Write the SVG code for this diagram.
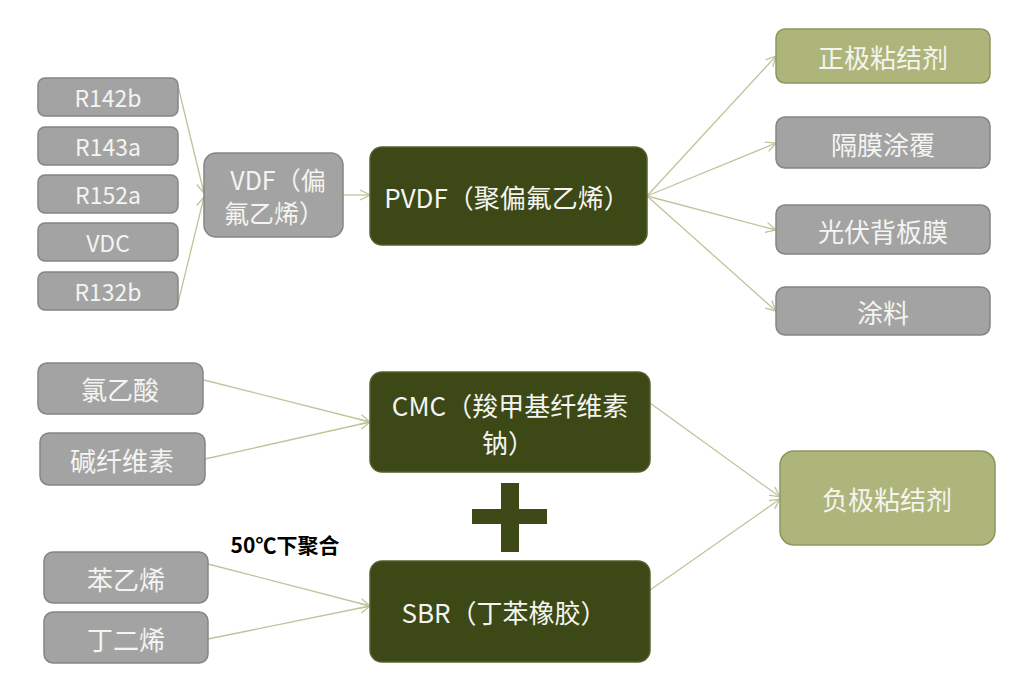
<svg xmlns="http://www.w3.org/2000/svg" width="1024" height="694" viewBox="0 0 1024 694">
<defs>
<marker id="arr" markerUnits="userSpaceOnUse" markerWidth="14" markerHeight="14" viewBox="0 0 14 14" refX="12" refY="7" orient="auto">
<path d="M2,2 L12,7 L2,12" fill="none" stroke="#bfc49a" stroke-width="1.3"/>
</marker>
</defs>
<style>
.g rect{fill:#a3a3a3;stroke:#858585;stroke-width:1.5}
.d rect{fill:#3c4816;stroke:#55602c;stroke-width:1.5}
.l rect{fill:#adb57b;stroke:#8e9660;stroke-width:1.5}
text{font-family:"Noto Sans CJK SC","Noto Sans",sans-serif;fill:#f4f4f0;text-anchor:middle;dominant-baseline:central}
.s{font-size:23px}
.m{font-size:26px}
.v{font-size:25px}
.c line{stroke:#bfc49a;stroke-width:1.3;marker-end:url(#arr)}
</style>
<rect width="1024" height="694" fill="#ffffff"/>
<g class="c" id="connectors">
<line x1="178" y1="86" x2="204" y2="193"/>
<line x1="178" y1="303" x2="204" y2="197"/>
<line x1="343" y1="195" x2="370" y2="195"/>
<line x1="647" y1="196" x2="776" y2="56"/>
<line x1="647" y1="196" x2="776" y2="143"/>
<line x1="647" y1="196" x2="776" y2="230"/>
<line x1="647" y1="196" x2="776" y2="311"/>
<line x1="204" y1="380" x2="370" y2="422"/>
<line x1="205" y1="459" x2="370" y2="422"/>
<line x1="208" y1="564" x2="370" y2="606"/>
<line x1="208" y1="639" x2="370" y2="606"/>
<line x1="650" y1="403" x2="780" y2="497"/>
<line x1="650" y1="590" x2="780" y2="499"/>
</g>
<g id="r142b" class="g"><rect x="38" y="78" width="140" height="38" rx="7"/><text class="s" x="108" y="97">R142b</text></g>
<g id="r143a" class="g"><rect x="38" y="127" width="140" height="38" rx="7"/><text class="s" x="108" y="146">R143a</text></g>
<g id="r152a" class="g"><rect x="38" y="175" width="140" height="38" rx="7"/><text class="s" x="108" y="194">R152a</text></g>
<g id="vdc" class="g"><rect x="38" y="223" width="140" height="38" rx="7"/><text class="s" x="108" y="242">VDC</text></g>
<g id="r132b" class="g"><rect x="38" y="272" width="140" height="38" rx="7"/><text class="s" x="108" y="291">R132b</text></g>
<g id="vdf" class="g"><rect x="204" y="153" width="139" height="84" rx="12"/><text class="v" x="278" y="179">VDF（偏</text><text class="v" x="274" y="212">氟乙烯）</text></g>
<g id="pvdf" class="d"><rect x="370" y="147" width="277" height="98" rx="12"/><text class="m" x="507" y="196">PVDF（聚偏氟乙烯）</text></g>
<g id="zhengji" class="l"><rect x="776" y="29" width="214" height="54" rx="9"/><text class="m" x="883" y="56">正极粘结剂</text></g>
<g id="gemo" class="g"><rect x="776" y="117" width="214" height="51" rx="9"/><text class="m" x="883" y="143">隔膜涂覆</text></g>
<g id="guangfu" class="g"><rect x="776" y="205" width="214" height="49" rx="9"/><text class="m" x="883" y="230">光伏背板膜</text></g>
<g id="tuliao" class="g"><rect x="776" y="287" width="214" height="48" rx="9"/><text class="m" x="883" y="311">涂料</text></g>
<g id="lvyisuan" class="g"><rect x="38" y="363" width="165" height="51" rx="9"/><text class="m" x="120" y="388">氯乙酸</text></g>
<g id="jianxianweisu" class="g"><rect x="40" y="433" width="165" height="52" rx="9"/><text class="m" x="122" y="459">碱纤维素</text></g>
<g id="cmc" class="d"><rect x="370" y="372" width="280" height="100" rx="12"/><text class="m" x="510" y="404">CMC（羧甲基纤维素</text><text class="m" x="508" y="441">钠）</text></g>
<g id="plus"><rect x="501" y="483" width="18" height="69" fill="#3c4816"/><rect x="472" y="509" width="75" height="15" fill="#3c4816"/></g>
<text x="285" y="544" style="font-size:21px;font-weight:bold;fill:#000">50℃下聚合</text>
<g id="benyixi" class="g"><rect x="44" y="552" width="164" height="51" rx="9"/><text class="m" x="126" y="578">苯乙烯</text></g>
<g id="dingerxi" class="g"><rect x="44" y="612" width="164" height="51" rx="9"/><text class="m" x="126" y="638">丁二烯</text></g>
<g id="sbr" class="d"><rect x="370" y="561" width="280" height="101" rx="12"/><text class="m" x="504" y="611">SBR（丁苯橡胶）</text></g>
<g id="fuji" class="l"><rect x="780" y="451" width="215" height="94" rx="14"/><text class="m" x="887" y="498">负极粘结剂</text></g>
</svg>
